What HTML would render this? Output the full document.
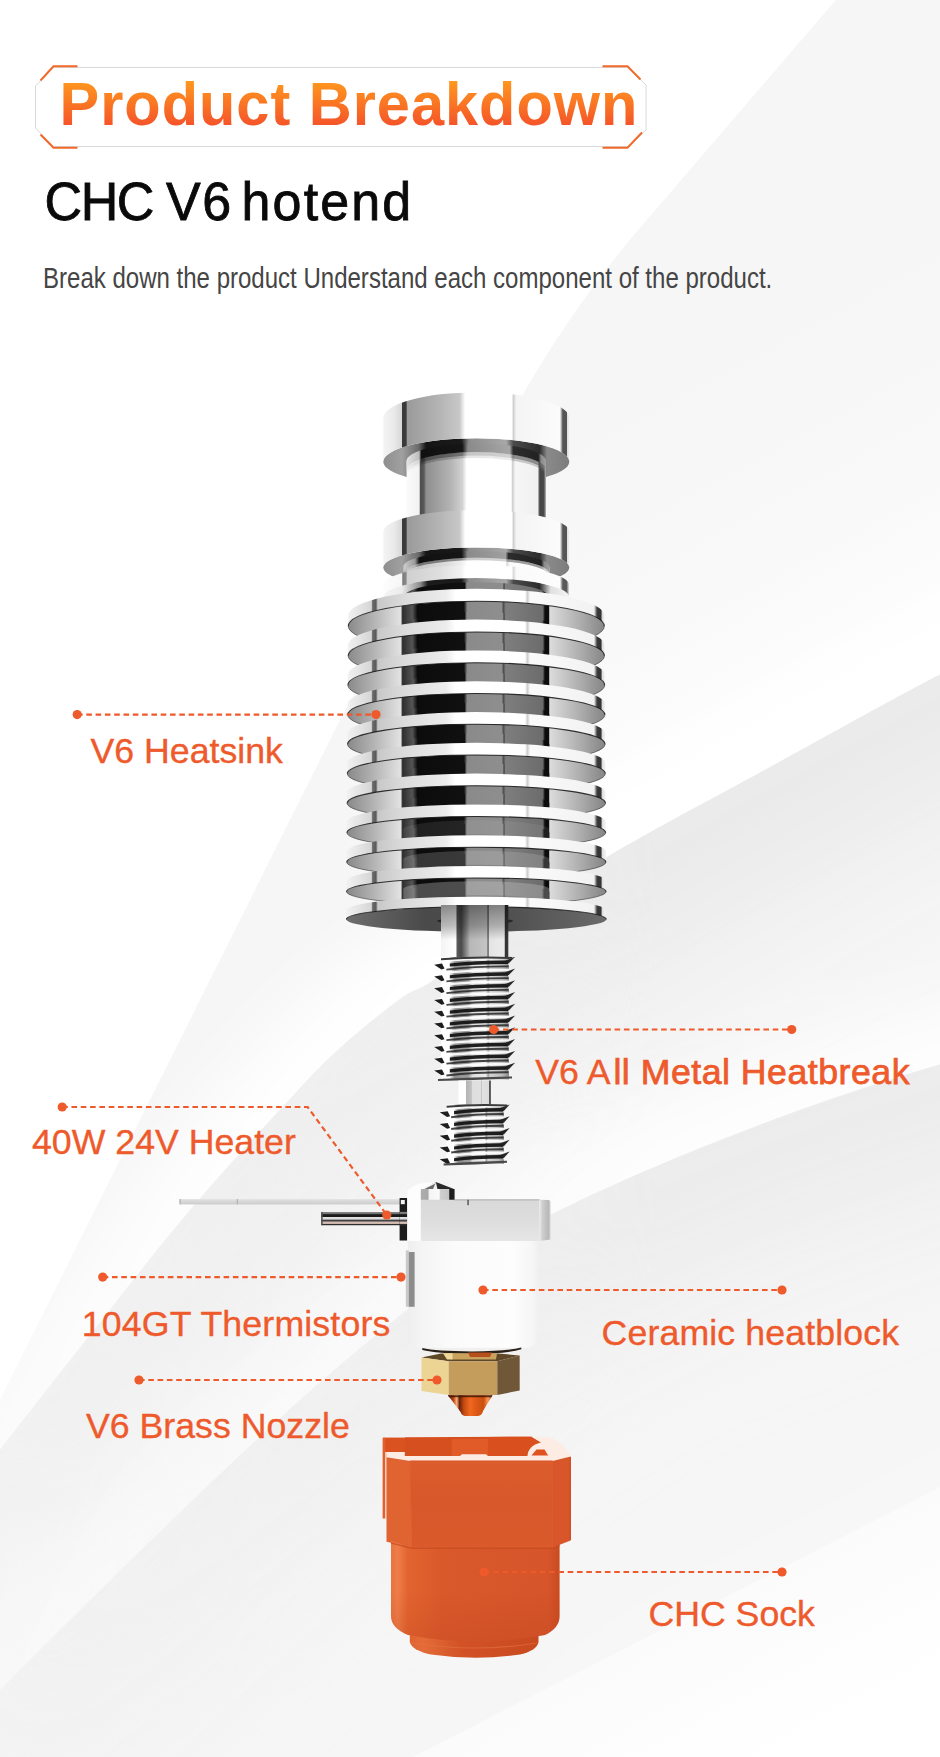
<!DOCTYPE html>
<html lang="en"><head><meta charset="utf-8"><title>Product Breakdown - CHC V6 hotend</title>
<style>
html,body{margin:0;padding:0;background:#fff;}
body{width:940px;height:1757px;overflow:hidden;font-family:"Liberation Sans",Arial,sans-serif;}
svg{display:block;}
</style></head><body>
<svg width="940" height="1757" viewBox="0 0 940 1757">
<defs>
<filter id="bl40" x="-20%" y="-20%" width="140%" height="140%"><feGaussianBlur stdDeviation="34"/></filter>
<filter id="bl70" x="-20%" y="-20%" width="140%" height="140%"><feGaussianBlur stdDeviation="70"/></filter>
<clipPath id="cR1"><path d="M836 0 L640 228 C590 286 545 355 520 400 C440 540 385 640 340 720 C300 800 150 1100 0 1400 L0 1757 L940 1757 L940 0 Z"/></clipPath>
<clipPath id="cA2"><path d="M1110 590 C1081.7 604.1 996.7 645 940 674.5 C883.3 704 825.8 736.4 770 767 C714.2 797.6 646.7 833.3 605 858 C563.3 882.7 548.3 894.8 520 915 C491.7 935.2 455 965 435 979 C415 993 415.8 987.5 400 999 C384.2 1010.5 358.5 1031.2 340 1048 C321.5 1064.8 314 1073 289 1100 C264 1127 223.2 1170.8 190 1210 C156.8 1249.2 121.7 1295 90 1335 C58.3 1375 25 1417.5 0 1450 C-25 1482.5 -50 1516.7 -60 1530 L-60 -50 L1110 -50 Z"/></clipPath>
<clipPath id="cB2"><path d="M1110 590 C1081.7 604.1 996.7 645 940 674.5 C883.3 704 825.8 736.4 770 767 C714.2 797.6 646.7 833.3 605 858 C563.3 882.7 548.3 894.8 520 915 C491.7 935.2 455 965 435 979 C415 993 415.8 987.5 400 999 C384.2 1010.5 358.5 1031.2 340 1048 C321.5 1064.8 314 1073 289 1100 C264 1127 223.2 1170.8 190 1210 C156.8 1249.2 121.7 1295 90 1335 C58.3 1375 25 1417.5 0 1450 C-25 1482.5 -50 1516.7 -60 1530 L-60 1900 L1110 1900 Z"/></clipPath>
<clipPath id="cA3"><path d="M1100 1020 L940 1064.6 C800 1105 650 1165 550 1215 C450 1270 380 1330 300 1400 C200 1490 80 1610 0 1690 L-60 1750 L-60 -50 L1100 -50 Z"/></clipPath>
<clipPath id="cB3"><path d="M1100 1020 L940 1064.6 C800 1105 650 1165 550 1215 C450 1270 380 1330 300 1400 C200 1490 80 1610 0 1690 L-60 1750 L-60 1900 L1100 1900 Z"/></clipPath>
<clipPath id="cA4"><path d="M1040 1436 L940 1487 L413 1757 L300 1815 L-60 1815 L-60 -50 L1040 -50 Z"/></clipPath>
<clipPath id="cB4"><path d="M1040 1436 L940 1487 L413 1757 L300 1815 L1040 1900 Z"/></clipPath>
<linearGradient id="mgL" gradientUnits="userSpaceOnUse" x1="0" y1="0" x2="940" y2="0"><stop offset="0" stop-color="#fff" stop-opacity="0.38"/><stop offset="0.45" stop-color="#fff" stop-opacity="0.62"/><stop offset="0.7" stop-color="#fff" stop-opacity="1"/></linearGradient>
<mask id="mL" maskUnits="userSpaceOnUse" x="0" y="0" width="940" height="1757"><rect width="940" height="1757" fill="url(#mgL)"/></mask>
<linearGradient id="gR1" gradientUnits="userSpaceOnUse" x1="578" y1="416.7" x2="770" y2="767.5"><stop offset="0" stop-color="#f6f6f6"/><stop offset="0.55" stop-color="#f9f9f9"/><stop offset="1" stop-color="#ffffff"/></linearGradient>
<linearGradient id="mgL2" gradientUnits="userSpaceOnUse" x1="0" y1="0" x2="940" y2="0"><stop offset="0" stop-color="#fff" stop-opacity="0.55"/><stop offset="0.2" stop-color="#fff" stop-opacity="0.85"/><stop offset="0.45" stop-color="#fff" stop-opacity="1"/></linearGradient>
<mask id="mL2" maskUnits="userSpaceOnUse" x="0" y="0" width="940" height="1757"><rect width="940" height="1757" fill="url(#mgL2)"/></mask>
<linearGradient id="gS4" gradientUnits="userSpaceOnUse" x1="640" y1="1640" x2="720" y2="1790"><stop offset="0" stop-color="#fbfbfb"/><stop offset="1" stop-color="#ffffff"/></linearGradient>
<linearGradient id="tg" x1="0" y1="0" x2="0" y2="1"><stop offset="0.15" stop-color="#ff9a1e"/><stop offset="0.85" stop-color="#f4502a"/></linearGradient>
<linearGradient id="gFl" gradientUnits="userSpaceOnUse" x1="383.3" y1="0" x2="569.3" y2="0"><stop offset="0.000" stop-color="#f4f4f4"/><stop offset="0.060" stop-color="#e9e9e9"/><stop offset="0.098" stop-color="#d8d8d8"/><stop offset="0.103" stop-color="#3a3a3a"/><stop offset="0.122" stop-color="#3a3a3a"/><stop offset="0.130" stop-color="#9a9a9a"/><stop offset="0.300" stop-color="#b4b4b4"/><stop offset="0.410" stop-color="#c8c8c8"/><stop offset="0.440" stop-color="#ffffff"/><stop offset="0.690" stop-color="#ffffff"/><stop offset="0.700" stop-color="#d0d0d0"/><stop offset="0.715" stop-color="#f4f4f4"/><stop offset="0.950" stop-color="#fbfbfb"/><stop offset="0.965" stop-color="#555555"/><stop offset="0.985" stop-color="#555555"/><stop offset="0.990" stop-color="#e0e0e0"/><stop offset="1.000" stop-color="#f0f0f0"/></linearGradient>
<linearGradient id="gFlU" gradientUnits="userSpaceOnUse" x1="383.3" y1="0" x2="569.3" y2="0"><stop offset="0.000" stop-color="#8e8e8e"/><stop offset="0.100" stop-color="#a0a0a0"/><stop offset="0.190" stop-color="#6a6a6a"/><stop offset="0.230" stop-color="#141414"/><stop offset="0.420" stop-color="#1a1a1a"/><stop offset="0.460" stop-color="#8c8c8c"/><stop offset="0.660" stop-color="#a8a8a8"/><stop offset="0.700" stop-color="#4a4a4a"/><stop offset="0.840" stop-color="#2c2c2c"/><stop offset="0.880" stop-color="#8a8a8a"/><stop offset="1.000" stop-color="#7c7c7c"/></linearGradient>
<linearGradient id="gNk" gradientUnits="userSpaceOnUse" x1="406.6" y1="0" x2="546" y2="0"><stop offset="0.000" stop-color="#fafafa"/><stop offset="0.090" stop-color="#f2f2f2"/><stop offset="0.100" stop-color="#4c4c4c"/><stop offset="0.125" stop-color="#5a5a5a"/><stop offset="0.140" stop-color="#8e8e8e"/><stop offset="0.320" stop-color="#b5b5b5"/><stop offset="0.400" stop-color="#d2d2d2"/><stop offset="0.430" stop-color="#ffffff"/><stop offset="0.750" stop-color="#ffffff"/><stop offset="0.760" stop-color="#cfcfcf"/><stop offset="0.780" stop-color="#f6f6f6"/><stop offset="0.940" stop-color="#f0f0f0"/><stop offset="0.955" stop-color="#444444"/><stop offset="0.985" stop-color="#4a4a4a"/><stop offset="1.000" stop-color="#bdbdbd"/></linearGradient>
<linearGradient id="gFin" gradientUnits="userSpaceOnUse" x1="348.3" y1="0" x2="604.3" y2="0"><stop offset="0.000" stop-color="#f0f0f0"/><stop offset="0.050" stop-color="#e2e2e2"/><stop offset="0.090" stop-color="#d6d6d6"/><stop offset="0.095" stop-color="#6a6a6a"/><stop offset="0.108" stop-color="#5a5a5a"/><stop offset="0.115" stop-color="#c8c8c8"/><stop offset="0.210" stop-color="#dadada"/><stop offset="0.380" stop-color="#ececec"/><stop offset="0.420" stop-color="#ffffff"/><stop offset="0.690" stop-color="#ffffff"/><stop offset="0.700" stop-color="#cfcfcf"/><stop offset="0.710" stop-color="#fafafa"/><stop offset="0.960" stop-color="#f2f2f2"/><stop offset="0.972" stop-color="#3a3a3a"/><stop offset="0.987" stop-color="#333333"/><stop offset="0.992" stop-color="#dddddd"/><stop offset="1.000" stop-color="#eeeeee"/></linearGradient>
<linearGradient id="gFinU" gradientUnits="userSpaceOnUse" x1="348.3" y1="0" x2="604.3" y2="0"><stop offset="0.000" stop-color="#8a8a8a"/><stop offset="0.100" stop-color="#b4b4b4"/><stop offset="0.205" stop-color="#e2e2e2"/><stop offset="0.212" stop-color="#2e2e2e"/><stop offset="0.250" stop-color="#555555"/><stop offset="0.270" stop-color="#0c0c0c"/><stop offset="0.452" stop-color="#101010"/><stop offset="0.465" stop-color="#8a8a8a"/><stop offset="0.600" stop-color="#8e8e8e"/><stop offset="0.605" stop-color="#4a4a4a"/><stop offset="0.615" stop-color="#7e7e7e"/><stop offset="0.760" stop-color="#6c6c6c"/><stop offset="0.768" stop-color="#0c0c0c"/><stop offset="0.782" stop-color="#0c0c0c"/><stop offset="0.787" stop-color="#dcdcdc"/><stop offset="0.900" stop-color="#b0b0b0"/><stop offset="1.000" stop-color="#868686"/></linearGradient>
<linearGradient id="gCore" gradientUnits="userSpaceOnUse" x1="403.3" y1="0" x2="549.3" y2="0"><stop offset="0.000" stop-color="#2e2e2e"/><stop offset="0.070" stop-color="#555555"/><stop offset="0.100" stop-color="#0c0c0c"/><stop offset="0.420" stop-color="#101010"/><stop offset="0.435" stop-color="#8a8a8a"/><stop offset="0.680" stop-color="#8e8e8e"/><stop offset="0.690" stop-color="#444444"/><stop offset="0.700" stop-color="#7e7e7e"/><stop offset="0.950" stop-color="#6c6c6c"/><stop offset="0.965" stop-color="#0c0c0c"/><stop offset="1.000" stop-color="#0c0c0c"/></linearGradient>
<linearGradient id="gCoreSh" gradientUnits="userSpaceOnUse" x1="0" y1="0" x2="0" y2="1"><stop offset="0.000" stop-color="#000000" stop-opacity="0.55"/><stop offset="0.450" stop-color="#000000" stop-opacity="0.0"/><stop offset="1.000" stop-color="#000000" stop-opacity="0.0"/></linearGradient>
<linearGradient id="gNkSh" gradientUnits="userSpaceOnUse" x1="406.6" y1="0" x2="546" y2="0"><stop offset="0.000" stop-color="#e4e4e4"/><stop offset="0.090" stop-color="#bdbdbd"/><stop offset="0.105" stop-color="#101010"/><stop offset="0.400" stop-color="#161616"/><stop offset="0.440" stop-color="#8a8a8a"/><stop offset="0.740" stop-color="#a6a6a6"/><stop offset="0.765" stop-color="#2c2c2c"/><stop offset="0.945" stop-color="#222222"/><stop offset="0.965" stop-color="#8a8a8a"/><stop offset="1.000" stop-color="#a0a0a0"/></linearGradient>
<linearGradient id="gNk2" gradientUnits="userSpaceOnUse" x1="403.3" y1="0" x2="549.3" y2="0"><stop offset="0.000" stop-color="#cfcfcf"/><stop offset="0.080" stop-color="#9a9a9a"/><stop offset="0.110" stop-color="#101010"/><stop offset="0.400" stop-color="#161616"/><stop offset="0.440" stop-color="#8a8a8a"/><stop offset="0.700" stop-color="#a0a0a0"/><stop offset="0.720" stop-color="#2c2c2c"/><stop offset="0.945" stop-color="#222222"/><stop offset="0.965" stop-color="#8a8a8a"/><stop offset="1.000" stop-color="#a0a0a0"/></linearGradient>
<linearGradient id="gRingCyl" gradientUnits="userSpaceOnUse" x1="403.3" y1="0" x2="549.3" y2="0"><stop offset="0.000" stop-color="#8a8a8a"/><stop offset="0.030" stop-color="#d0d0d0"/><stop offset="0.120" stop-color="#c6c6c6"/><stop offset="0.300" stop-color="#dcdcdc"/><stop offset="0.400" stop-color="#f0f0f0"/><stop offset="0.440" stop-color="#ffffff"/><stop offset="0.700" stop-color="#ffffff"/><stop offset="0.710" stop-color="#d8d8d8"/><stop offset="0.730" stop-color="#fafafa"/><stop offset="1.000" stop-color="#ffffff"/></linearGradient>
<linearGradient id="gRing" gradientUnits="userSpaceOnUse" x1="383.3" y1="0" x2="569.3" y2="0"><stop offset="0.000" stop-color="#fdfdfd"/><stop offset="0.098" stop-color="#f6f6f6"/><stop offset="0.105" stop-color="#7a7a7a"/><stop offset="0.122" stop-color="#8a8a8a"/><stop offset="0.130" stop-color="#d0d0d0"/><stop offset="0.300" stop-color="#dedede"/><stop offset="0.420" stop-color="#f2f2f2"/><stop offset="0.440" stop-color="#ffffff"/><stop offset="0.690" stop-color="#ffffff"/><stop offset="0.700" stop-color="#dadada"/><stop offset="0.715" stop-color="#fafafa"/><stop offset="0.950" stop-color="#fdfdfd"/><stop offset="0.965" stop-color="#5a5a5a"/><stop offset="0.985" stop-color="#5a5a5a"/><stop offset="1.000" stop-color="#f6f6f6"/></linearGradient>
<linearGradient id="gRingU" gradientUnits="userSpaceOnUse" x1="383.3" y1="0" x2="569.3" y2="0"><stop offset="0.000" stop-color="#f4f4f4"/><stop offset="0.100" stop-color="#ececec"/><stop offset="0.200" stop-color="#8a8a8a"/><stop offset="0.240" stop-color="#1a1a1a"/><stop offset="0.420" stop-color="#1a1a1a"/><stop offset="0.460" stop-color="#8c8c8c"/><stop offset="0.660" stop-color="#a8a8a8"/><stop offset="0.700" stop-color="#4a4a4a"/><stop offset="0.840" stop-color="#2c2c2c"/><stop offset="0.900" stop-color="#e0e0e0"/><stop offset="1.000" stop-color="#f4f4f4"/></linearGradient>
<linearGradient id="gLastU" gradientUnits="userSpaceOnUse" x1="346" y1="0" x2="606.6" y2="0"><stop offset="0.000" stop-color="#6e6e6e"/><stop offset="0.300" stop-color="#4a4a4a"/><stop offset="0.600" stop-color="#4e4e4e"/><stop offset="1.000" stop-color="#6a6a6a"/></linearGradient>
<linearGradient id="gTube" gradientUnits="userSpaceOnUse" x1="441" y1="0" x2="508.3" y2="0"><stop offset="0.000" stop-color="#f4f4f4"/><stop offset="0.220" stop-color="#ffffff"/><stop offset="0.240" stop-color="#5a5a5a"/><stop offset="0.300" stop-color="#4a4a4a"/><stop offset="0.400" stop-color="#9c9c9c"/><stop offset="0.430" stop-color="#b8b8b8"/><stop offset="0.680" stop-color="#c4c4c4"/><stop offset="0.700" stop-color="#555555"/><stop offset="0.720" stop-color="#e4e4e4"/><stop offset="0.940" stop-color="#ececec"/><stop offset="0.955" stop-color="#333333"/><stop offset="1.000" stop-color="#3a3a3a"/></linearGradient>
<linearGradient id="gTubeSh" gradientUnits="userSpaceOnUse" x1="0" y1="905" x2="0" y2="940"><stop offset="0.000" stop-color="#000000" stop-opacity="0.45"/><stop offset="0.600" stop-color="#000000" stop-opacity="0.25"/><stop offset="1.000" stop-color="#000000" stop-opacity="0"/></linearGradient>
<linearGradient id="gThr" gradientUnits="userSpaceOnUse" x1="441" y1="0" x2="509" y2="0"><stop offset="0.000" stop-color="#ffffff"/><stop offset="0.120" stop-color="#ffffff"/><stop offset="0.200" stop-color="#8e8e8e"/><stop offset="0.400" stop-color="#9c9c9c"/><stop offset="0.460" stop-color="#dedede"/><stop offset="0.660" stop-color="#ececec"/><stop offset="0.695" stop-color="#a0a0a0"/><stop offset="0.720" stop-color="#d4d4d4"/><stop offset="0.900" stop-color="#bcbcbc"/><stop offset="1.000" stop-color="#8a8a8a"/></linearGradient>
<linearGradient id="gNn" gradientUnits="userSpaceOnUse" x1="458.4" y1="0" x2="491" y2="0"><stop offset="0.000" stop-color="#ffffff"/><stop offset="0.220" stop-color="#ffffff"/><stop offset="0.240" stop-color="#b4b4b4"/><stop offset="0.400" stop-color="#c2c2c2"/><stop offset="0.420" stop-color="#dedede"/><stop offset="0.680" stop-color="#e0e0e0"/><stop offset="0.700" stop-color="#b0b0b0"/><stop offset="0.720" stop-color="#e2e2e2"/><stop offset="0.930" stop-color="#dcdcdc"/><stop offset="0.950" stop-color="#555555"/><stop offset="1.000" stop-color="#6a6a6a"/></linearGradient>
<linearGradient id="gThr2" gradientUnits="userSpaceOnUse" x1="446.6" y1="0" x2="504" y2="0"><stop offset="0.000" stop-color="#ffffff"/><stop offset="0.120" stop-color="#ffffff"/><stop offset="0.200" stop-color="#8e8e8e"/><stop offset="0.400" stop-color="#9c9c9c"/><stop offset="0.460" stop-color="#dedede"/><stop offset="0.660" stop-color="#ececec"/><stop offset="0.695" stop-color="#a0a0a0"/><stop offset="0.720" stop-color="#d4d4d4"/><stop offset="0.900" stop-color="#bcbcbc"/><stop offset="1.000" stop-color="#8a8a8a"/></linearGradient>
<linearGradient id="gPl" gradientUnits="userSpaceOnUse" x1="0" y1="1199" x2="0" y2="1204.4"><stop offset="0.000" stop-color="#e6e6e6"/><stop offset="0.350" stop-color="#d9d9d9"/><stop offset="0.800" stop-color="#d2d2d2"/><stop offset="1.000" stop-color="#bcbcbc"/></linearGradient>
<linearGradient id="gRod" gradientUnits="userSpaceOnUse" x1="0" y1="1211.9" x2="0" y2="1225.3"><stop offset="0.000" stop-color="#8a8a8a"/><stop offset="0.170" stop-color="#6a6a6a"/><stop offset="0.200" stop-color="#1a1a1a"/><stop offset="0.360" stop-color="#1a1a1a"/><stop offset="0.400" stop-color="#e2e2e2"/><stop offset="0.550" stop-color="#d8d8d8"/><stop offset="0.600" stop-color="#3c3c3c"/><stop offset="0.700" stop-color="#4a4a4a"/><stop offset="0.740" stop-color="#d8c4bc"/><stop offset="0.880" stop-color="#c9b0a6"/><stop offset="0.920" stop-color="#2a2a2a"/><stop offset="1.000" stop-color="#3a3a3a"/></linearGradient>
<linearGradient id="gScr" gradientUnits="userSpaceOnUse" x1="417.5" y1="0" x2="454.6" y2="0"><stop offset="0.000" stop-color="#b0b0b0"/><stop offset="0.280" stop-color="#a8a8a8"/><stop offset="0.320" stop-color="#f4f4f4"/><stop offset="0.580" stop-color="#fafafa"/><stop offset="0.620" stop-color="#cfcfcf"/><stop offset="0.840" stop-color="#c4c4c4"/><stop offset="0.870" stop-color="#1a1a1a"/><stop offset="1.000" stop-color="#222222"/></linearGradient>
<linearGradient id="gMt" gradientUnits="userSpaceOnUse" x1="0" y1="1199" x2="0" y2="1241"><stop offset="0.000" stop-color="#d9d9d9"/><stop offset="0.500" stop-color="#dddddd"/><stop offset="1.000" stop-color="#e6e6e6"/></linearGradient>
<linearGradient id="gMr" gradientUnits="userSpaceOnUse" x1="539.6" y1="0" x2="550.6" y2="0"><stop offset="0.000" stop-color="#e9e9e9"/><stop offset="0.250" stop-color="#cfcfcf"/><stop offset="0.800" stop-color="#b8b8b8"/><stop offset="1.000" stop-color="#d8d8d8"/></linearGradient>
<linearGradient id="gCer" gradientUnits="userSpaceOnUse" x1="407.7" y1="0" x2="538.5" y2="0"><stop offset="0.000" stop-color="#eeeeee"/><stop offset="0.100" stop-color="#f4f4f4"/><stop offset="0.350" stop-color="#fbfbfb"/><stop offset="0.800" stop-color="#fdfdfd"/><stop offset="0.950" stop-color="#f6f6f6"/><stop offset="1.000" stop-color="#f0f0f0"/></linearGradient>
<linearGradient id="gCone" gradientUnits="userSpaceOnUse" x1="447.9" y1="0" x2="492.5" y2="0"><stop offset="0.000" stop-color="#5a1c06"/><stop offset="0.120" stop-color="#b0400f"/><stop offset="0.200" stop-color="#ffb079"/><stop offset="0.260" stop-color="#6a2208"/><stop offset="0.360" stop-color="#c54a12"/><stop offset="0.500" stop-color="#f0691f"/><stop offset="0.620" stop-color="#e05a18"/><stop offset="0.800" stop-color="#c9500f"/><stop offset="0.900" stop-color="#ff9a5a"/><stop offset="1.000" stop-color="#a8400c"/></linearGradient>
<linearGradient id="gSk" gradientUnits="userSpaceOnUse" x1="0" y1="1458" x2="0" y2="1548"><stop offset="0.000" stop-color="#dc5c2d"/><stop offset="0.500" stop-color="#d8582b"/><stop offset="1.000" stop-color="#da5a2c"/></linearGradient>
<linearGradient id="gSc" gradientUnits="userSpaceOnUse" x1="391" y1="0" x2="559.6" y2="0"><stop offset="0.000" stop-color="#e9733f"/><stop offset="0.040" stop-color="#ee7e4a"/><stop offset="0.100" stop-color="#e2642f"/><stop offset="0.300" stop-color="#da592b"/><stop offset="0.700" stop-color="#d7562a"/><stop offset="0.930" stop-color="#d6552a"/><stop offset="1.000" stop-color="#cb4b20"/></linearGradient>
<linearGradient id="gSb" gradientUnits="userSpaceOnUse" x1="409.8" y1="0" x2="538.5" y2="0"><stop offset="0.000" stop-color="#e0632f"/><stop offset="0.100" stop-color="#e46c38"/><stop offset="0.400" stop-color="#d25226"/><stop offset="1.000" stop-color="#c94a1f"/></linearGradient>
<linearGradient id="gScV" gradientUnits="userSpaceOnUse" x1="0" y1="1590" x2="0" y2="1645"><stop offset="0.000" stop-color="#b8401a" stop-opacity="0.0"/><stop offset="1.000" stop-color="#b8401a" stop-opacity="0.28"/></linearGradient>
</defs>
<g id="background-and-header">
<rect width="940" height="1757" fill="#ffffff"/>
<path d="M836 0 L640 228 C590 286 545 355 520 400 C440 540 385 640 340 720 C300 800 150 1100 0 1400 L0 1757 L940 1757 L940 0 Z" fill="#f6f6f6"/>
<g clip-path="url(#cA2)"><path d="M836 0 L640 228 C590 286 545 355 520 400 L476 480 L476 1000 L940 1000 L940 0 Z" fill="url(#gR1)"/></g>
<g mask="url(#mL2)">
<g clip-path="url(#cR1)"><g clip-path="url(#cA2)"><path d="M1110 590 C1081.7 604.1 996.7 645 940 674.5 C883.3 704 825.8 736.4 770 767 C714.2 797.6 646.7 833.3 605 858 C563.3 882.7 548.3 894.8 520 915 C491.7 935.2 455 965 435 979 C415 993 415.8 987.5 400 999 C384.2 1010.5 358.5 1031.2 340 1048 C321.5 1064.8 314 1073 289 1100 C264 1127 223.2 1170.8 190 1210 C156.8 1249.2 121.7 1295 90 1335 C58.3 1375 25 1417.5 0 1450 C-25 1482.5 -50 1516.7 -60 1530" fill="none" stroke="#ffffff" stroke-width="120" filter="url(#bl40)"/></g></g>
</g>
<g mask="url(#mL)">
<g clip-path="url(#cB2)"><path d="M1110 590 C1081.7 604.1 996.7 645 940 674.5 C883.3 704 825.8 736.4 770 767 C714.2 797.6 646.7 833.3 605 858 C563.3 882.7 548.3 894.8 520 915 C491.7 935.2 455 965 435 979 C415 993 415.8 987.5 400 999 C384.2 1010.5 358.5 1031.2 340 1048 C321.5 1064.8 314 1073 289 1100 C264 1127 223.2 1170.8 190 1210 C156.8 1249.2 121.7 1295 90 1335 C58.3 1375 25 1417.5 0 1450 C-25 1482.5 -50 1516.7 -60 1530" fill="none" stroke="#e9e9e9" stroke-width="230" filter="url(#bl70)"/></g>
<g clip-path="url(#cB2)"><g clip-path="url(#cA3)"><path d="M1100 1020 L940 1064.6 C800 1105 650 1165 550 1215 C450 1270 380 1330 300 1400 C200 1490 80 1610 0 1690 L-60 1750" fill="none" stroke="#ffffff" stroke-width="120" filter="url(#bl40)" opacity="0.8"/></g></g>
<g clip-path="url(#cB3)"><path d="M1100 1020 L940 1064.6 C800 1105 650 1165 550 1215 C450 1270 380 1330 300 1400 C200 1490 80 1610 0 1690 L-60 1750" fill="none" stroke="#ebebeb" stroke-width="230" filter="url(#bl70)"/></g>
<g clip-path="url(#cB3)"><g clip-path="url(#cA4)"><path d="M1040 1436 L940 1487 L413 1757 L300 1815" fill="none" stroke="#ffffff" stroke-width="100" filter="url(#bl40)" opacity="0.15"/></g></g>
</g>
<path d="M940 1487 L413 1757 L940 1757 Z" fill="url(#gS4)"/>
<path d="M53.5 67.5 L628 67.5 L646 85 L646 130 L628 146.5 L53.5 146.5 L35.5 128 L35.5 86 Z" fill="#ffffff" stroke="#d9d9d9" stroke-width="1"/>
<path d="M77.5 66.3 L53.5 66.3 L40.5 80.5" fill="none" stroke="#f26a2a" stroke-width="2"/>
<path d="M77.5 147.7 L53.5 147.7 L40.5 134.5" fill="none" stroke="#f26a2a" stroke-width="2"/>
<path d="M602.5 66.3 L627.5 66.3 L640.5 79.5" fill="none" stroke="#f26a2a" stroke-width="2"/>
<path d="M602.5 147.7 L627.5 147.7 L642 132.5" fill="none" stroke="#f26a2a" stroke-width="2"/>
<text transform="translate(0 125.3) scale(1 1.04) translate(0 -125)" x="59.5" y="125" font-family="'Liberation Sans', Arial, sans-serif" font-weight="700" font-size="59.5" letter-spacing="1.0" fill="url(#tg)">Product Breakdown</text>
<text transform="translate(0 220.2) scale(1 1.04) translate(0 -220)" x="44.6" y="220" font-family="'Liberation Sans', Arial, sans-serif" font-size="52" fill="#0a0a0a" stroke="#0a0a0a" stroke-width="0.8"><tspan x="44.6" letter-spacing="-1.5">CHC</tspan> <tspan x="166" letter-spacing="1.5">V6</tspan> <tspan x="241.5" letter-spacing="2.15">hotend</tspan></text>
<text transform="translate(43 288.3) scale(0.8345 1)" font-family="'Liberation Sans', Arial, sans-serif" font-size="28.8" fill="#454545">Break down the product Understand each component of the product.</text>
</g>
<g id="product">
<ellipse cx="476.3" cy="461.6" rx="93" ry="23.41" fill="url(#gFlU)" /><path d="M383.3 418 A93 25.6 0 0 1 569.3 418 L569.3 461.6 A93 23.41 0 0 0 383.3 461.6 Z" fill="url(#gFl)"/>
<path d="M406.6 461.6 A69.7 17.55 0 0 1 546 461.6 L546 540 A69.7 18 0 0 0 406.6 540 Z" fill="url(#gNk)"/>
<path d="M406.6 460.9 A69.7 17.55 0 0 1 546 460.9 L546 469.6 A69.7 17.55 0 0 0 406.6 469.6 Z" fill="url(#gNkSh)"/>
<path d="M406.6 469.4 A69.7 17.55 0 0 1 546 469.4 L546 473.1 A69.7 17.55 0 0 0 406.6 473.1 Z" fill="url(#gNkSh)" opacity="0.5"/>
<path d="M406.6 472.9 A69.7 17.55 0 0 1 546 472.9 L546 475.6 A69.7 17.55 0 0 0 406.6 475.6 Z" fill="url(#gNkSh)" opacity="0.22"/>
<ellipse cx="476.3" cy="567.48" rx="93" ry="20.06" fill="url(#gFlU)" /><path d="M383.3 531.88 A93 21.88 0 0 1 569.3 531.88 L569.3 567.48 A93 20.06 0 0 0 383.3 567.48 Z" fill="url(#gFl)"/>
<path d="M403.3 567.48 A73 15.75 0 0 1 549.3 567.48 L549.3 590 A73 15 0 0 0 403.3 590 Z" fill="url(#gRingCyl)"/>
<path d="M403.3 566.78 A73 15.75 0 0 1 549.3 566.78 L549.3 573.48 A73 15.75 0 0 0 403.3 573.48 Z" fill="url(#gNk2)"/>
<path d="M403.3 573.28 A73 15.75 0 0 1 549.3 573.28 L549.3 575.98 A73 15.75 0 0 0 403.3 575.98 Z" fill="url(#gNk2)" opacity="0.45"/>
<ellipse cx="476.3" cy="597.14" rx="93" ry="19.13" fill="url(#gRingU)" /><path d="M383.3 585.14 A93 20.14 0 0 1 569.3 585.14 L569.3 597.14 A93 19.13 0 0 0 383.3 597.14 Z" fill="url(#gRing)"/>
<path d="M403.3 597.14 A73 15.01 0 0 1 549.3 597.14 L549.3 900 A73 10 0 0 0 403.3 900 Z" fill="url(#gCore)"/>
<ellipse cx="476.3" cy="626.29" rx="128" ry="25.06" fill="url(#gFinU)" />
<path d="M348.3 626.29 A128 25.06 0 0 0 604.3 626.29" fill="none" stroke="#2a2a2a" stroke-width="1" opacity="0.55"/>
<path d="M403.3 626.29 A73 14.29 0 0 1 549.3 626.29 L549.3 660.29 A73 12.86 0 0 0 403.3 660.29 Z" fill="url(#gCore)"/>
<path d="M403.3 637.29 A73 14.29 0 0 1 549.3 637.29 L549.3 650.29 A73 14.29 0 0 0 403.3 650.29 Z" fill="#000" opacity="0.18"/>
<path d="M348.3 615.49 A128 26.69 0 0 1 604.3 615.49 L604.3 626.29 A128 25.06 0 0 0 348.3 626.29 Z" fill="url(#gFin)"/>
<path d="M348.3 626.29 A128 25.06 0 0 1 604.3 626.29" fill="none" stroke="#111111" stroke-width="1.1" opacity="0.85"/>
<ellipse cx="476.3" cy="655.79" rx="128.2" ry="23.81" fill="url(#gFinU)" />
<path d="M348.1 655.79 A128.2 23.81 0 0 0 604.5 655.79" fill="none" stroke="#2a2a2a" stroke-width="1" opacity="0.55"/>
<path d="M403.3 655.79 A73 13.56 0 0 1 549.3 655.79 L549.3 689.79 A73 12.2 0 0 0 403.3 689.79 Z" fill="url(#gCore)"/>
<path d="M403.3 666.79 A73 13.56 0 0 1 549.3 666.79 L549.3 679.79 A73 13.56 0 0 0 403.3 679.79 Z" fill="#000" opacity="0.18"/>
<path d="M348.1 644.99 A128.2 25.39 0 0 1 604.5 644.99 L604.5 655.79 A128.2 23.81 0 0 0 348.1 655.79 Z" fill="url(#gFin)"/>
<path d="M348.1 655.79 A128.2 23.81 0 0 1 604.5 655.79" fill="none" stroke="#111111" stroke-width="1.1" opacity="0.85"/>
<ellipse cx="476.3" cy="685.28" rx="128.4" ry="22.56" fill="url(#gFinU)" />
<path d="M347.9 685.28 A128.4 22.56 0 0 0 604.7 685.28" fill="none" stroke="#2a2a2a" stroke-width="1" opacity="0.55"/>
<path d="M403.3 685.28 A73 12.82 0 0 1 549.3 685.28 L549.3 719.28 A73 11.54 0 0 0 403.3 719.28 Z" fill="url(#gCore)"/>
<path d="M403.3 696.28 A73 12.82 0 0 1 549.3 696.28 L549.3 709.28 A73 12.82 0 0 0 403.3 709.28 Z" fill="#000" opacity="0.18"/>
<path d="M347.9 674.48 A128.4 24.08 0 0 1 604.7 674.48 L604.7 685.28 A128.4 22.56 0 0 0 347.9 685.28 Z" fill="url(#gFin)"/>
<path d="M347.9 685.28 A128.4 22.56 0 0 1 604.7 685.28" fill="none" stroke="#111111" stroke-width="1.1" opacity="0.85"/>
<ellipse cx="476.3" cy="714.77" rx="128.6" ry="21.3" fill="url(#gFinU)" />
<path d="M347.7 714.77 A128.6 21.3 0 0 0 604.9 714.77" fill="none" stroke="#2a2a2a" stroke-width="1" opacity="0.55"/>
<path d="M403.3 714.77 A73 12.09 0 0 1 549.3 714.77 L549.3 748.77 A73 10.88 0 0 0 403.3 748.77 Z" fill="url(#gCore)"/>
<path d="M403.3 725.77 A73 12.09 0 0 1 549.3 725.77 L549.3 738.77 A73 12.09 0 0 0 403.3 738.77 Z" fill="#000" opacity="0.18"/>
<path d="M347.7 703.97 A128.6 22.77 0 0 1 604.9 703.97 L604.9 714.77 A128.6 21.3 0 0 0 347.7 714.77 Z" fill="url(#gFin)"/>
<path d="M347.7 714.77 A128.6 21.3 0 0 1 604.9 714.77" fill="none" stroke="#111111" stroke-width="1.1" opacity="0.85"/>
<ellipse cx="476.3" cy="744.26" rx="128.8" ry="20.05" fill="url(#gFinU)" />
<path d="M347.5 744.26 A128.8 20.05 0 0 0 605.1 744.26" fill="none" stroke="#2a2a2a" stroke-width="1" opacity="0.55"/>
<path d="M403.3 744.26 A73 11.36 0 0 1 549.3 744.26 L549.3 778.26 A73 10.23 0 0 0 403.3 778.26 Z" fill="url(#gCore)"/>
<path d="M403.3 755.26 A73 11.36 0 0 1 549.3 755.26 L549.3 768.26 A73 11.36 0 0 0 403.3 768.26 Z" fill="#000" opacity="0.18"/>
<path d="M347.5 733.46 A128.8 21.46 0 0 1 605.1 733.46 L605.1 744.26 A128.8 20.05 0 0 0 347.5 744.26 Z" fill="url(#gFin)"/>
<path d="M347.5 744.26 A128.8 20.05 0 0 1 605.1 744.26" fill="none" stroke="#111111" stroke-width="1.1" opacity="0.85"/>
<ellipse cx="476.3" cy="773.74" rx="129" ry="18.78" fill="url(#gFinU)" />
<path d="M347.3 773.74 A129 18.78 0 0 0 605.3 773.74" fill="none" stroke="#2a2a2a" stroke-width="1" opacity="0.55"/>
<path d="M403.3 773.74 A73 10.63 0 0 1 549.3 773.74 L549.3 807.74 A73 9.57 0 0 0 403.3 807.74 Z" fill="url(#gCore)"/>
<path d="M403.3 784.74 A73 10.63 0 0 1 549.3 784.74 L549.3 797.74 A73 10.63 0 0 0 403.3 797.74 Z" fill="#000" opacity="0.18"/>
<path d="M347.3 762.94 A129 20.14 0 0 1 605.3 762.94 L605.3 773.74 A129 18.78 0 0 0 347.3 773.74 Z" fill="url(#gFin)"/>
<path d="M347.3 773.74 A129 18.78 0 0 1 605.3 773.74" fill="none" stroke="#111111" stroke-width="1.1" opacity="0.85"/>
<ellipse cx="476.3" cy="803.22" rx="129.2" ry="17.52" fill="url(#gFinU)" />
<path d="M347.1 803.22 A129.2 17.52 0 0 0 605.5 803.22" fill="none" stroke="#2a2a2a" stroke-width="1" opacity="0.55"/>
<path d="M403.3 803.22 A73 9.9 0 0 1 549.3 803.22 L549.3 837.22 A73 8.91 0 0 0 403.3 837.22 Z" fill="url(#gCore)"/>
<path d="M403.3 814.22 A73 9.9 0 0 1 549.3 814.22 L549.3 827.22 A73 9.9 0 0 0 403.3 827.22 Z" fill="#000" opacity="0.18"/>
<path d="M347.1 792.42 A129.2 18.82 0 0 1 605.5 792.42 L605.5 803.22 A129.2 17.52 0 0 0 347.1 803.22 Z" fill="url(#gFin)"/>
<path d="M347.1 803.22 A129.2 17.52 0 0 1 605.5 803.22" fill="none" stroke="#111111" stroke-width="1.1" opacity="0.85"/>
<ellipse cx="476.3" cy="832.69" rx="129.4" ry="16.25" fill="url(#gFinU)" />
<path d="M346.9 832.69 A129.4 16.25 0 0 0 605.7 832.69" fill="none" stroke="#2a2a2a" stroke-width="1" opacity="0.55"/>
<path d="M403.3 832.69 A73 9.17 0 0 1 549.3 832.69 L549.3 866.69 A73 8.25 0 0 0 403.3 866.69 Z" fill="url(#gCore)"/>
<path d="M403.3 843.69 A73 9.17 0 0 1 549.3 843.69 L549.3 856.69 A73 9.17 0 0 0 403.3 856.69 Z" fill="#000" opacity="0.18"/>
<path d="M403.3 829.44 A73 9.17 0 0 1 549.3 829.44 L549.3 858.69 A73 9.17 0 0 0 403.3 858.69 Z" fill="#cccccc" opacity="0.11"/>
<path d="M346.9 821.89 A129.4 17.49 0 0 1 605.7 821.89 L605.7 832.69 A129.4 16.25 0 0 0 346.9 832.69 Z" fill="url(#gFin)"/>
<path d="M346.9 832.69 A129.4 16.25 0 0 1 605.7 832.69" fill="none" stroke="#111111" stroke-width="1.1" opacity="0.85"/>
<ellipse cx="476.3" cy="862.16" rx="129.6" ry="14.97" fill="url(#gFinU)" />
<path d="M346.7 862.16 A129.6 14.97 0 0 0 605.9 862.16" fill="none" stroke="#2a2a2a" stroke-width="1" opacity="0.55"/>
<path d="M403.3 862.16 A73 8.43 0 0 1 549.3 862.16 L549.3 896.16 A73 7.59 0 0 0 403.3 896.16 Z" fill="url(#gCore)"/>
<path d="M403.3 873.16 A73 8.43 0 0 1 549.3 873.16 L549.3 886.16 A73 8.43 0 0 0 403.3 886.16 Z" fill="#000" opacity="0.18"/>
<path d="M403.3 859.17 A73 8.43 0 0 1 549.3 859.17 L549.3 888.16 A73 8.43 0 0 0 403.3 888.16 Z" fill="#cccccc" opacity="0.22"/>
<path d="M346.7 851.36 A129.6 16.16 0 0 1 605.9 851.36 L605.9 862.16 A129.6 14.97 0 0 0 346.7 862.16 Z" fill="url(#gFin)"/>
<path d="M346.7 862.16 A129.6 14.97 0 0 1 605.9 862.16" fill="none" stroke="#111111" stroke-width="1.1" opacity="0.85"/>
<ellipse cx="476.3" cy="891.63" rx="129.8" ry="13.7" fill="url(#gFinU)" />
<path d="M346.5 891.63 A129.8 13.7 0 0 0 606.1 891.63" fill="none" stroke="#2a2a2a" stroke-width="1" opacity="0.55"/>
<path d="M403.3 891.63 A73 7.7 0 0 1 549.3 891.63 L549.3 925.63 A73 6.93 0 0 0 403.3 925.63 Z" fill="url(#gCore)"/>
<path d="M403.3 902.63 A73 7.7 0 0 1 549.3 902.63 L549.3 915.63 A73 7.7 0 0 0 403.3 915.63 Z" fill="#000" opacity="0.18"/>
<path d="M403.3 888.89 A73 7.7 0 0 1 549.3 888.89 L549.3 917.63 A73 7.7 0 0 0 403.3 917.63 Z" fill="#cccccc" opacity="0.33"/>
<path d="M346.5 880.83 A129.8 14.83 0 0 1 606.1 880.83 L606.1 891.63 A129.8 13.7 0 0 0 346.5 891.63 Z" fill="url(#gFin)"/>
<path d="M346.5 891.63 A129.8 13.7 0 0 1 606.1 891.63" fill="none" stroke="#111111" stroke-width="1.1" opacity="0.85"/>
<ellipse cx="476.3" cy="919.29" rx="130" ry="12.5" fill="url(#gLastU)" />
<path d="M346.3 910.29 A130 13.49 0 0 1 606.3 910.29 L606.3 919.29 A130 12.5 0 0 0 346.3 919.29 Z" fill="url(#gFin)"/>
<path d="M346.3 919.29 A130 12.5 0 0 1 606.3 919.29" fill="none" stroke="#111111" stroke-width="1.1" opacity="0.85"/>
<ellipse cx="475" cy="921" rx="38" ry="3.2" fill="#1c1c1c" opacity="0.8"/>
<rect x="441" y="905" width="67.3" height="52.5" fill="url(#gTube)"/>
<rect x="441" y="905" width="67.3" height="35" fill="url(#gTubeSh)"/>
<rect x="441" y="957" width="68" height="122.4" fill="url(#gThr)"/><path d="M441 961.1 Q475 958 509 958.1" fill="none" stroke="#ffffff" stroke-width="2.4" opacity="0.9"/><path d="M449.84 963.5 Q475 960.2 508.5 960.4 L508.5 963.9 Q475 963.8 449.84 966.6 Z" fill="#141414" opacity="0.95"/><path d="M446.44 969.6 Q475 966.3 508.5 966.4" fill="none" stroke="#262626" stroke-width="1.9" opacity="0.85"/><path d="M441.5 961.2 L434.2 965.2 L441.5 969.6 Z" fill="#fafafa"/><path d="M434.2 964.7 L442 963.6 L444.5 968.6 L441.5 969.4 Z" fill="#1e1e1e"/><path d="M508 958.8 L515.1 957 L508 965.4 Z" fill="#dcdcdc"/><path d="M505.5 960.4 L515.1 956.8 L508.5 963.6 Z" fill="#242424"/><path d="M441 972.86 Q475 969.76 509 969.86" fill="none" stroke="#ffffff" stroke-width="2.4" opacity="0.9"/><path d="M449.84 975.26 Q475 971.96 508.5 972.16 L508.5 975.66 Q475 975.56 449.84 978.36 Z" fill="#141414" opacity="0.95"/><path d="M446.44 981.36 Q475 978.06 508.5 978.16" fill="none" stroke="#262626" stroke-width="1.9" opacity="0.85"/><path d="M441.5 972.96 L434.2 976.96 L441.5 981.36 Z" fill="#fafafa"/><path d="M434.2 976.46 L442 975.36 L444.5 980.36 L441.5 981.16 Z" fill="#1e1e1e"/><path d="M508 970.56 L515.1 968.76 L508 977.16 Z" fill="#dcdcdc"/><path d="M505.5 972.16 L515.1 968.56 L508.5 975.36 Z" fill="#242424"/><path d="M441 984.62 Q475 981.52 509 981.62" fill="none" stroke="#ffffff" stroke-width="2.4" opacity="0.9"/><path d="M449.84 987.02 Q475 983.72 508.5 983.92 L508.5 987.42 Q475 987.32 449.84 990.12 Z" fill="#141414" opacity="0.95"/><path d="M446.44 993.12 Q475 989.82 508.5 989.92" fill="none" stroke="#262626" stroke-width="1.9" opacity="0.85"/><path d="M441.5 984.72 L434.2 988.72 L441.5 993.12 Z" fill="#fafafa"/><path d="M434.2 988.22 L442 987.12 L444.5 992.12 L441.5 992.92 Z" fill="#1e1e1e"/><path d="M508 982.32 L515.1 980.52 L508 988.92 Z" fill="#dcdcdc"/><path d="M505.5 983.92 L515.1 980.32 L508.5 987.12 Z" fill="#242424"/><path d="M441 996.38 Q475 993.28 509 993.38" fill="none" stroke="#ffffff" stroke-width="2.4" opacity="0.9"/><path d="M449.84 998.78 Q475 995.48 508.5 995.68 L508.5 999.18 Q475 999.08 449.84 1001.88 Z" fill="#141414" opacity="0.95"/><path d="M446.44 1004.88 Q475 1001.58 508.5 1001.68" fill="none" stroke="#262626" stroke-width="1.9" opacity="0.85"/><path d="M441.5 996.48 L434.2 1000.48 L441.5 1004.88 Z" fill="#fafafa"/><path d="M434.2 999.98 L442 998.88 L444.5 1003.88 L441.5 1004.68 Z" fill="#1e1e1e"/><path d="M508 994.08 L515.1 992.28 L508 1000.68 Z" fill="#dcdcdc"/><path d="M505.5 995.68 L515.1 992.08 L508.5 998.88 Z" fill="#242424"/><path d="M441 1008.14 Q475 1005.04 509 1005.14" fill="none" stroke="#ffffff" stroke-width="2.4" opacity="0.9"/><path d="M449.84 1010.54 Q475 1007.24 508.5 1007.44 L508.5 1010.94 Q475 1010.84 449.84 1013.64 Z" fill="#141414" opacity="0.95"/><path d="M446.44 1016.64 Q475 1013.34 508.5 1013.44" fill="none" stroke="#262626" stroke-width="1.9" opacity="0.85"/><path d="M441.5 1008.24 L434.2 1012.24 L441.5 1016.64 Z" fill="#fafafa"/><path d="M434.2 1011.74 L442 1010.64 L444.5 1015.64 L441.5 1016.44 Z" fill="#1e1e1e"/><path d="M508 1005.84 L515.1 1004.04 L508 1012.44 Z" fill="#dcdcdc"/><path d="M505.5 1007.44 L515.1 1003.84 L508.5 1010.64 Z" fill="#242424"/><path d="M441 1019.9 Q475 1016.8 509 1016.9" fill="none" stroke="#ffffff" stroke-width="2.4" opacity="0.9"/><path d="M449.84 1022.3 Q475 1019 508.5 1019.2 L508.5 1022.7 Q475 1022.6 449.84 1025.4 Z" fill="#141414" opacity="0.95"/><path d="M446.44 1028.4 Q475 1025.1 508.5 1025.2" fill="none" stroke="#262626" stroke-width="1.9" opacity="0.85"/><path d="M441.5 1020 L434.2 1024 L441.5 1028.4 Z" fill="#fafafa"/><path d="M434.2 1023.5 L442 1022.4 L444.5 1027.4 L441.5 1028.2 Z" fill="#1e1e1e"/><path d="M508 1017.6 L515.1 1015.8 L508 1024.2 Z" fill="#dcdcdc"/><path d="M505.5 1019.2 L515.1 1015.6 L508.5 1022.4 Z" fill="#242424"/><path d="M441 1031.66 Q475 1028.56 509 1028.66" fill="none" stroke="#ffffff" stroke-width="2.4" opacity="0.9"/><path d="M449.84 1034.06 Q475 1030.76 508.5 1030.96 L508.5 1034.46 Q475 1034.36 449.84 1037.16 Z" fill="#141414" opacity="0.95"/><path d="M446.44 1040.16 Q475 1036.86 508.5 1036.96" fill="none" stroke="#262626" stroke-width="1.9" opacity="0.85"/><path d="M441.5 1031.76 L434.2 1035.76 L441.5 1040.16 Z" fill="#fafafa"/><path d="M434.2 1035.26 L442 1034.16 L444.5 1039.16 L441.5 1039.96 Z" fill="#1e1e1e"/><path d="M508 1029.36 L515.1 1027.56 L508 1035.96 Z" fill="#dcdcdc"/><path d="M505.5 1030.96 L515.1 1027.36 L508.5 1034.16 Z" fill="#242424"/><path d="M441 1043.42 Q475 1040.32 509 1040.42" fill="none" stroke="#ffffff" stroke-width="2.4" opacity="0.9"/><path d="M449.84 1045.82 Q475 1042.52 508.5 1042.72 L508.5 1046.22 Q475 1046.12 449.84 1048.92 Z" fill="#141414" opacity="0.95"/><path d="M446.44 1051.92 Q475 1048.62 508.5 1048.72" fill="none" stroke="#262626" stroke-width="1.9" opacity="0.85"/><path d="M441.5 1043.52 L434.2 1047.52 L441.5 1051.92 Z" fill="#fafafa"/><path d="M434.2 1047.02 L442 1045.92 L444.5 1050.92 L441.5 1051.72 Z" fill="#1e1e1e"/><path d="M508 1041.12 L515.1 1039.32 L508 1047.72 Z" fill="#dcdcdc"/><path d="M505.5 1042.72 L515.1 1039.12 L508.5 1045.92 Z" fill="#242424"/><path d="M441 1055.18 Q475 1052.08 509 1052.18" fill="none" stroke="#ffffff" stroke-width="2.4" opacity="0.9"/><path d="M449.84 1057.58 Q475 1054.28 508.5 1054.48 L508.5 1057.98 Q475 1057.88 449.84 1060.68 Z" fill="#141414" opacity="0.95"/><path d="M446.44 1063.68 Q475 1060.38 508.5 1060.48" fill="none" stroke="#262626" stroke-width="1.9" opacity="0.85"/><path d="M441.5 1055.28 L434.2 1059.28 L441.5 1063.68 Z" fill="#fafafa"/><path d="M434.2 1058.78 L442 1057.68 L444.5 1062.68 L441.5 1063.48 Z" fill="#1e1e1e"/><path d="M508 1052.88 L515.1 1051.08 L508 1059.48 Z" fill="#dcdcdc"/><path d="M505.5 1054.48 L515.1 1050.88 L508.5 1057.68 Z" fill="#242424"/><path d="M441 1066.94 Q475 1063.84 509 1063.94" fill="none" stroke="#ffffff" stroke-width="2.4" opacity="0.9"/><path d="M449.84 1069.34 Q475 1066.04 508.5 1066.24 L508.5 1069.74 Q475 1069.64 449.84 1072.44 Z" fill="#141414" opacity="0.95"/><path d="M446.44 1075.44 Q475 1072.14 508.5 1072.24" fill="none" stroke="#262626" stroke-width="1.9" opacity="0.85"/><path d="M441.5 1067.04 L434.2 1071.04 L441.5 1075.44 Z" fill="#fafafa"/><path d="M434.2 1070.54 L442 1069.44 L444.5 1074.44 L441.5 1075.24 Z" fill="#1e1e1e"/><path d="M508 1064.64 L515.1 1062.84 L508 1071.24 Z" fill="#dcdcdc"/><path d="M505.5 1066.24 L515.1 1062.64 L508.5 1069.44 Z" fill="#242424"/><path d="M441 958.2 Q475 955.5 512 957 L513 959 Q475 957.6 441 960.2 Z" fill="#3a3a3a"/><path d="M438 1079 Q475 1077.2 512 1076.4 L512 1078.4 Q475 1080.4 438 1081 Z" fill="#4a4a4a"/>
<rect x="458.4" y="1080.5" width="32.6" height="24.5" fill="url(#gNn)"/>
<rect x="446.6" y="1104.5" width="57.4" height="59.3" fill="url(#gThr2)"/><path d="M446.6 1108.7 Q475.3 1105.6 504 1105.7" fill="none" stroke="#ffffff" stroke-width="2.4" opacity="0.9"/><path d="M454.06 1111.1 Q475.3 1107.8 503.5 1108 L503.5 1111.5 Q475.3 1111.4 454.06 1114.2 Z" fill="#141414" opacity="0.95"/><path d="M451.19 1117.2 Q475.3 1113.9 503.5 1114" fill="none" stroke="#262626" stroke-width="1.9" opacity="0.85"/><path d="M447.1 1108.8 L439.7 1112.8 L447.1 1117.2 Z" fill="#fafafa"/><path d="M439.7 1112.3 L447.6 1111.2 L450.1 1116.2 L447.1 1117 Z" fill="#1e1e1e"/><path d="M503 1106.4 L509.6 1104.6 L503 1113 Z" fill="#dcdcdc"/><path d="M500.5 1108 L509.6 1104.4 L503.5 1111.2 Z" fill="#242424"/><path d="M446.6 1120.46 Q475.3 1117.36 504 1117.46" fill="none" stroke="#ffffff" stroke-width="2.4" opacity="0.9"/><path d="M454.06 1122.86 Q475.3 1119.56 503.5 1119.76 L503.5 1123.26 Q475.3 1123.16 454.06 1125.96 Z" fill="#141414" opacity="0.95"/><path d="M451.19 1128.96 Q475.3 1125.66 503.5 1125.76" fill="none" stroke="#262626" stroke-width="1.9" opacity="0.85"/><path d="M447.1 1120.56 L439.7 1124.56 L447.1 1128.96 Z" fill="#fafafa"/><path d="M439.7 1124.06 L447.6 1122.96 L450.1 1127.96 L447.1 1128.76 Z" fill="#1e1e1e"/><path d="M503 1118.16 L509.6 1116.36 L503 1124.76 Z" fill="#dcdcdc"/><path d="M500.5 1119.76 L509.6 1116.16 L503.5 1122.96 Z" fill="#242424"/><path d="M446.6 1132.22 Q475.3 1129.12 504 1129.22" fill="none" stroke="#ffffff" stroke-width="2.4" opacity="0.9"/><path d="M454.06 1134.62 Q475.3 1131.32 503.5 1131.52 L503.5 1135.02 Q475.3 1134.92 454.06 1137.72 Z" fill="#141414" opacity="0.95"/><path d="M451.19 1140.72 Q475.3 1137.42 503.5 1137.52" fill="none" stroke="#262626" stroke-width="1.9" opacity="0.85"/><path d="M447.1 1132.32 L439.7 1136.32 L447.1 1140.72 Z" fill="#fafafa"/><path d="M439.7 1135.82 L447.6 1134.72 L450.1 1139.72 L447.1 1140.52 Z" fill="#1e1e1e"/><path d="M503 1129.92 L509.6 1128.12 L503 1136.52 Z" fill="#dcdcdc"/><path d="M500.5 1131.52 L509.6 1127.92 L503.5 1134.72 Z" fill="#242424"/><path d="M446.6 1143.98 Q475.3 1140.88 504 1140.98" fill="none" stroke="#ffffff" stroke-width="2.4" opacity="0.9"/><path d="M454.06 1146.38 Q475.3 1143.08 503.5 1143.28 L503.5 1146.78 Q475.3 1146.68 454.06 1149.48 Z" fill="#141414" opacity="0.95"/><path d="M451.19 1152.48 Q475.3 1149.18 503.5 1149.28" fill="none" stroke="#262626" stroke-width="1.9" opacity="0.85"/><path d="M447.1 1144.08 L439.7 1148.08 L447.1 1152.48 Z" fill="#fafafa"/><path d="M439.7 1147.58 L447.6 1146.48 L450.1 1151.48 L447.1 1152.28 Z" fill="#1e1e1e"/><path d="M503 1141.68 L509.6 1139.88 L503 1148.28 Z" fill="#dcdcdc"/><path d="M500.5 1143.28 L509.6 1139.68 L503.5 1146.48 Z" fill="#242424"/><path d="M446.6 1155.74 Q475.3 1152.64 504 1152.74" fill="none" stroke="#ffffff" stroke-width="2.4" opacity="0.9"/><path d="M454.06 1158.14 Q475.3 1154.84 503.5 1155.04 L503.5 1158.54 Q475.3 1158.44 454.06 1161.24 Z" fill="#141414" opacity="0.95"/><path d="M447.1 1155.84 L439.7 1159.84 L447.1 1164.24 Z" fill="#fafafa"/><path d="M439.7 1159.34 L447.6 1158.24 L450.1 1163.24 L447.1 1164.04 Z" fill="#1e1e1e"/><path d="M503 1153.44 L509.6 1151.64 L503 1160.04 Z" fill="#dcdcdc"/><path d="M500.5 1155.04 L509.6 1151.44 L503.5 1158.24 Z" fill="#242424"/><path d="M446.6 1105.7 Q475.3 1103 507 1104.5 L508 1106.5 Q475.3 1105.1 446.6 1107.7 Z" fill="#3a3a3a"/><path d="M443.6 1163.4 Q475.3 1161.6 507 1160.8 L507 1162.8 Q475.3 1164.8 443.6 1165.4 Z" fill="#4a4a4a"/>
<rect x="179.5" y="1199" width="221.5" height="5.3" fill="url(#gPl)"/>
<rect x="179.5" y="1199" width="1.2" height="5.3" fill="#b0b0b0"/>
<rect x="236.8" y="1199" width="1" height="5.3" fill="#aaaaaa"/>
<rect x="321.1" y="1211.9" width="80" height="13.4" rx="1" fill="url(#gRod)"/>
<rect x="321.1" y="1211.9" width="1.6" height="13.4" fill="#555"/>
<rect x="399.6" y="1198" width="7.6" height="42.5" fill="#1c1c1c"/>
<rect x="400.8" y="1200" width="4" height="4.2" fill="#f4f4f4"/>
<rect x="399.6" y="1211.9" width="7.6" height="13.4" fill="url(#gRod)"/>
<path d="M417.5 1189.2 L435.9 1181.9 L454.6 1189.2 Z" fill="#2a2a2a"/>
<path d="M417.5 1189.2 L435.9 1181.9 L432.5 1189.2 Z" fill="#f4f4f4"/>
<path d="M424 1189.2 L435.9 1183.2 L434 1189.2 Z" fill="#6a6a6a"/>
<path d="M435.9 1181.9 L437.5 1189.2 L433 1189.2 Z" fill="#f0f0f0"/>
<rect x="417.5" y="1189" width="37.1" height="11" fill="url(#gScr)"/>
<path d="M420 1199.8 L539.6 1199.8 L539.6 1240.9 L420 1240.9 Z" fill="url(#gMt)"/>
<path d="M407.3 1240.8 L407.3 1190.4 Q412 1186 420.5 1183.6 L436 1181.8 L420.8 1189.4 L420.8 1240.8 Z" fill="#fdfdfd"/>
<rect x="454" y="1199.2" width="85.6" height="1.2" fill="#8a8a8a" opacity="0.55"/>
<rect x="467.4" y="1199.8" width="1.3" height="5.4" fill="#444"/>
<path d="M539.6 1199.8 L548.6 1200 Q550.6 1200.2 550.6 1202 L550.6 1239.6 L539.6 1240.9 Z" fill="url(#gMr)"/>
<path d="M407.7 1240.9 L538.5 1240.9 L538.5 1334 Q538.5 1347.5 524 1347.8 L423 1347.8 Q407.7 1347.5 407.7 1334 Z" fill="url(#gCer)"/>
<rect x="405.8" y="1250.4" width="3" height="56.4" fill="#c9c9c9"/>
<rect x="408.8" y="1252" width="5.8" height="54.8" fill="#8c8c8c"/>
<path d="M422.3 1348 Q436 1351.2 472 1351.4 Q508 1351.2 521.3 1347.6 L521.3 1349.2 Q508 1353.6 472 1353.8 Q436 1353.6 422.3 1350 Z" fill="#2a2118"/>
<path d="M421.5 1357.5 L441 1353.5 L498 1353.5 L519.7 1355.5 L497.3 1361.2 L448.7 1361.2 Z" fill="#5f4828"/>
<path d="M443 1353.2 L497 1353.2 L496 1359.5 L452 1359.5 Z" fill="#c9a35e"/>
<path d="M443 1353.2 L452.5 1353.2 L452.5 1359.5 L447 1359.5 Z" fill="#f0d89a"/>
<path d="M468 1352.6 L492 1352.6 L490 1357 L470 1357 Z" fill="#b5501c"/>
<path d="M421.5 1357.5 L448.7 1361.2 L448.7 1395 L421.5 1391 Z" fill="#ecd494"/>
<path d="M448.7 1361.2 L497.3 1361.2 L497.3 1395 L448.7 1395 Z" fill="#c49c5b"/>
<path d="M497.3 1361.2 L519.7 1355.5 L519.7 1390.4 L497.3 1395 Z" fill="#705737"/>
<path d="M447.9 1395.2 L492.5 1395.2 L483 1411 Q482 1415.6 478 1415.9 L465 1415.9 Q461.5 1415.6 460.6 1412 Z" fill="url(#gCone)"/>
<path d="M447.9 1395.2 L492.5 1395.2 L491.5 1397.2 L449 1397.2 Z" fill="#3c1404" opacity="0.8"/>
<path d="M383.2 1437.8 L404.8 1437.8 L404.8 1437.2 L531.5 1436.7 L541 1442.6 L541 1457 L383.2 1457 Z" fill="#d6501f"/>
<path d="M383.2 1437.8 L404.8 1437.8 L404.8 1452 L383.2 1452 Z" fill="#db5221"/>
<path d="M451.7 1439 L488 1439 L488 1457 L451.7 1457 Z" fill="#e15b29"/>
<path d="M488 1436.9 L531.5 1436.7 L541 1442.6 L541 1457 L488 1457 Z" fill="#d9501e"/>
<path d="M527.4 1457 Q527.6 1445.5 541 1442.4 L531.5 1436.7 L548 1437 Q563 1441 570.7 1455.8 L550.5 1460.2 L527 1460.2 Z" fill="#fcece4"/>
<path d="M531.5 1455.6 L536.5 1449.4 L544.5 1449.4 L548.2 1455.6 Z" fill="#e0531f"/>
<path d="M384.4 1451.9 L404.8 1451.9 L404.8 1456 L460 1456 L462 1454.2 L486 1454.2 L488 1456 L551 1456 L570.7 1455.2 L570.7 1457 L552.5 1461.3 L410.1 1461.3 L386 1457.6 Z" fill="#fcece4"/>
<path d="M382.6 1437.8 L385.2 1437.8 L385.2 1518.5 L382.6 1518.5 Z" fill="#e2602d"/>
<path d="M385.2 1452 L386.7 1452 L386.7 1518.5 L385.2 1518.5 Z" fill="#f6c9b4"/>
<path d="M386.5 1457.2 L410.3 1461.1 L412 1547.5 L386.5 1541.7 Z" fill="#e06431"/>
<path d="M410.1 1460.9 L552.5 1460.9 L552.5 1547.5 L412 1547.5 Z" fill="url(#gSk)" stroke="#d9592b" stroke-width="0.9"/>
<path d="M552.5 1460.9 L570.7 1456.6 L570.7 1540.5 L552.5 1547.5 Z" fill="#d85629"/>
<rect x="569.6" y="1457" width="1.3" height="83" fill="#c94c20"/>
<path d="M409.8 1632 L538.5 1632 L538.5 1642 Q537 1650.5 520 1654.5 Q476 1661 431 1654.5 Q412 1650.5 409.8 1642 Z" fill="url(#gSb)"/>
<path d="M391 1541 L412 1547.5 L552.5 1547.5 L559.6 1544 L559.6 1616 Q559.6 1628 545 1635 Q476 1648 408 1635 Q391 1628 391 1616 Z" fill="url(#gSc)"/>
<path d="M391 1590 L559.6 1590 L559.6 1616 Q559.6 1628 545 1635 Q476 1648 408 1635 Q391 1628 391 1616 Z" fill="url(#gScV)"/>
<path d="M391 1543 L412 1548.2 L552.5 1548.2 L559.6 1545.5" fill="none" stroke="#c44a1e" stroke-width="1.4" opacity="0.7"/>
<path d="M412 1643 Q476 1653 537 1643" fill="none" stroke="#e8794a" stroke-width="1.2" opacity="0.5"/>
</g>
<g id="labels">
<path d="M77 714.6 L376 714.6" fill="none" stroke="#ee5a2b" stroke-width="2.2" stroke-dasharray="5.6 3.7"/><circle cx="77.2" cy="714.6" r="4.6" fill="#ee5a2b"/><circle cx="376" cy="714.6" r="4.6" fill="#ee5a2b"/><text x="90.5" y="763.3" font-family="'Liberation Sans', Arial, sans-serif" font-size="35.7" fill="#ee5a2b" stroke="#ee5a2b" stroke-width="0.35" >V6 Heatsink</text>
<path d="M493.7 1029.5 L791.7 1029.5" fill="none" stroke="#ee5a2b" stroke-width="2.2" stroke-dasharray="5.6 3.7"/><circle cx="493.7" cy="1029.5" r="4.6" fill="#ee5a2b"/><circle cx="791.7" cy="1029.5" r="4.6" fill="#ee5a2b"/><text x="535.2" y="1083.6" font-family="'Liberation Sans', Arial, sans-serif" font-size="35.7" fill="#ee5a2b" stroke="#ee5a2b" stroke-width="0.35" >V6 A<tspan x="613.4" letter-spacing="0.5" stroke="#ee5a2b" stroke-width="0.75">ll Metal Heatbreak</tspan></text>
<path d="M62.2 1107 L307.6 1107 L386.8 1215" fill="none" stroke="#ee5a2b" stroke-width="2.2" stroke-dasharray="5.6 3.7"/><circle cx="62.2" cy="1107" r="4.6" fill="#ee5a2b"/><circle cx="386.8" cy="1215" r="4.6" fill="#ee5a2b"/><text x="32" y="1153.6" font-family="'Liberation Sans', Arial, sans-serif" font-size="35.7" fill="#ee5a2b" stroke="#ee5a2b" stroke-width="0.35" >40W 24V Heater</text>
<path d="M102.7 1277.1 L401 1277.1" fill="none" stroke="#ee5a2b" stroke-width="2.2" stroke-dasharray="5.6 3.7"/><circle cx="102.7" cy="1277.1" r="4.6" fill="#ee5a2b"/><circle cx="401" cy="1277.1" r="4.6" fill="#ee5a2b"/><text x="81.8" y="1336" font-family="'Liberation Sans', Arial, sans-serif" font-size="35.7" fill="#ee5a2b" stroke="#ee5a2b" stroke-width="0.35" letter-spacing="0.15">104GT Thermistors</text>
<path d="M139 1380 L437 1380" fill="none" stroke="#ee5a2b" stroke-width="2.2" stroke-dasharray="5.6 3.7"/><circle cx="139" cy="1380" r="4.6" fill="#ee5a2b"/><circle cx="437" cy="1380" r="4.6" fill="#ee5a2b"/><text x="86" y="1437.7" font-family="'Liberation Sans', Arial, sans-serif" font-size="35.7" fill="#ee5a2b" stroke="#ee5a2b" stroke-width="0.35" >V6 Brass Nozzle</text>
<path d="M483 1290 L782 1290" fill="none" stroke="#ee5a2b" stroke-width="2.2" stroke-dasharray="5.6 3.7"/><circle cx="483" cy="1290" r="4.6" fill="#ee5a2b"/><circle cx="782" cy="1290" r="4.6" fill="#ee5a2b"/><text x="601.6" y="1345.4" font-family="'Liberation Sans', Arial, sans-serif" font-size="35.7" fill="#ee5a2b" stroke="#ee5a2b" stroke-width="0.35" letter-spacing="0.12">Ceramic heatblock</text>
<path d="M484 1572 L782 1572" fill="none" stroke="#ee5a2b" stroke-width="2.2" stroke-dasharray="5.6 3.7"/><circle cx="484" cy="1572" r="4.6" fill="#ee5a2b"/><circle cx="782" cy="1572" r="4.6" fill="#ee5a2b"/><text x="648.4" y="1626.3" font-family="'Liberation Sans', Arial, sans-serif" font-size="35.7" fill="#ee5a2b" stroke="#ee5a2b" stroke-width="0.35" >CHC Sock</text>
</g>
</svg>
</body></html>
